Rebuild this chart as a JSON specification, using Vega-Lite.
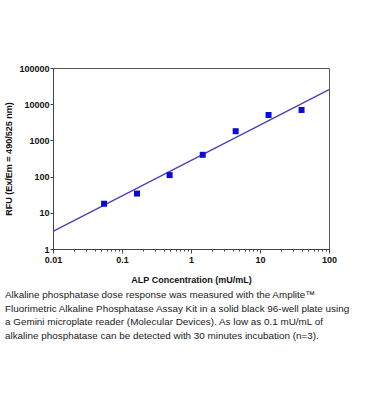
{
  "$schema": "https://vega.github.io/schema/vega-lite/v6.json",
  "width": 276,
  "height": 181,
  "autosize": {"type": "none"},
  "padding": {"left": 53, "top": 68, "right": 40, "bottom": 171},
  "background": "white",
  "config": {
    "view": {"stroke": "#555", "strokeWidth": 1},
    "axis": {"grid": false, "domainColor": "#444", "tickColor": "#444", "labelFont": "Liberation Sans", "titleFont": "Liberation Sans", "labelFontWeight": "bold", "titleFontWeight": "bold", "labelFontSize": 9, "titleFontSize": 9, "labelColor": "#111", "titleColor": "#111"}
  },
  "title": {
    "text": [
      "Alkaline phosphatase dose response was measured with the Amplite™",
      "Fluorimetric  Alkaline Phosphatase Assay Kit in a solid black 96-well plate using",
      "a Gemini microplate reader (Molecular Devices). As low as 0.1 mU/mL of",
      "alkaline phosphatase can be detected with 30 minutes incubation (n=3)."
    ],
    "orient": "bottom",
    "anchor": "start",
    "frame": "group",
    "dx": -48,
    "offset": 6,
    "font": "Liberation Sans",
    "fontSize": 9.9,
    "fontWeight": "normal",
    "color": "#1a1a1a",
    "lineHeight": 13.5
  },
  "datasets": {
    "points": [
      {"conc": 0.055, "rfu": 17.8},
      {"conc": 0.165, "rfu": 34},
      {"conc": 0.49, "rfu": 110},
      {"conc": 1.48, "rfu": 400},
      {"conc": 4.44, "rfu": 1795},
      {"conc": 13.3, "rfu": 5040},
      {"conc": 40, "rfu": 6930}
    ],
    "fit": [
      {"conc": 0.01, "rfu": 3.07},
      {"conc": 100, "rfu": 25200}
    ]
  },
  "layer": [
    {
      "data": {"name": "fit"},
      "mark": {"type": "line", "color": "#4a3fb5", "strokeWidth": 1.3},
      "encoding": {
        "x": {
          "field": "conc", "type": "quantitative",
          "scale": {"type": "log", "domain": [0.01, 100], "nice": false},
          "axis": {
            "title": "ALP Concentration (mU/mL)",
            "values": [0.01,0.02,0.03,0.04,0.05,0.06,0.07,0.08,0.09,0.1,0.2,0.3,0.4,0.5,0.6,0.7,0.8,0.9,1,2,3,4,5,6,7,8,9,10,20,30,40,50,60,70,80,90,100],
            "labelExpr": "abs(log(datum.value)/LN10 - round(log(datum.value)/LN10)) < 1e-6 ? datum.value + '' : ''",
            "tickSize": {"condition": {"test": "abs(log(datum.value)/LN10 - round(log(datum.value)/LN10)) < 1e-6", "value": 4}, "value": 2},
            "labelPadding": 2,
            "titlePadding": 11,
            "labelFlush": false,
            "labelOverlap": false
          }
        },
        "y": {
          "field": "rfu", "type": "quantitative",
          "scale": {"type": "log", "domain": [1, 100000], "nice": false},
          "axis": {
            "title": "RFU (Ex/Em = 490/525 nm)",
            "values": [1, 10, 100, 1000, 10000, 100000],
            "labelExpr": "datum.value + ''",
            "tickSize": 3,
            "labelPadding": 1,
            "titlePadding": 5,
            "labelFlush": false,
            "labelOverlap": false
          }
        }
      }
    },
    {
      "data": {"name": "points"},
      "mark": {"type": "square", "color": "#0a0ad8", "opacity": 1, "size": 36},
      "encoding": {
        "x": {"field": "conc", "type": "quantitative"},
        "y": {"field": "rfu", "type": "quantitative"}
      }
    }
  ]
}
